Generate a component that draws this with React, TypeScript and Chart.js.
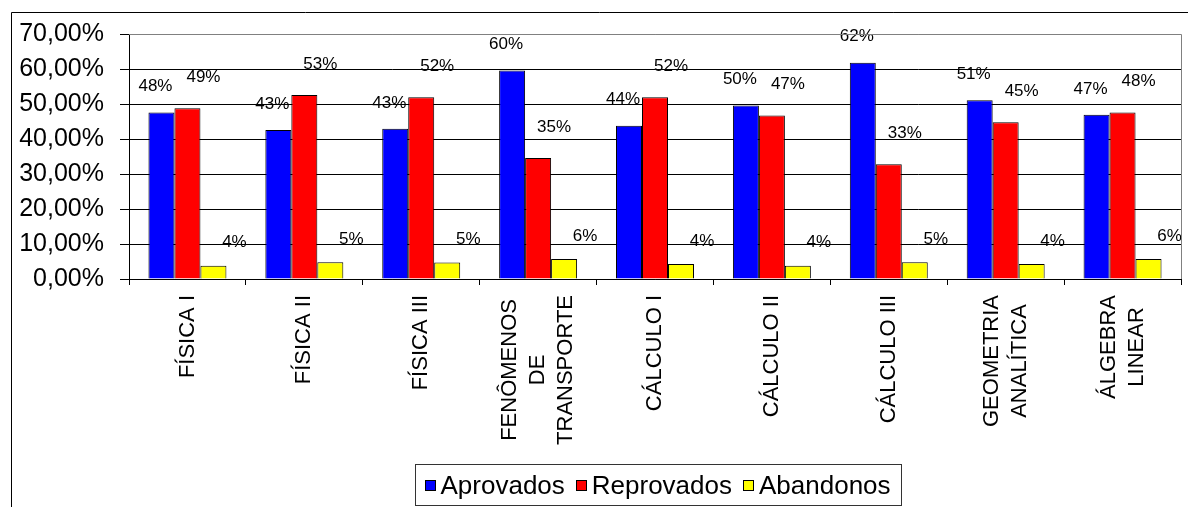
import React, { useEffect, useRef } from "react";
import { Chart, registerables } from "chart.js";

Chart.register(...registerables);

// ---- data ----
const categories: string[][] = [
  ["FÍSICA I"],
  ["FÍSICA II"],
  ["FÍSICA III"],
  ["FENÔMENOS", "DE", "TRANSPORTE"],
  ["CÁLCULO I"],
  ["CÁLCULO II"],
  ["CÁLCULO III"],
  ["GEOMETRIA", "ANALÍTICA"],
  ["ÁLGEBRA", "LINEAR"],
];
const seriesNames = ["Aprovados", "Reprovados", "Abandonos"];
const aprovados = [47.6, 42.6, 42.9, 59.6, 43.8, 49.6, 61.8, 51.1, 46.9];
const reprovados = [48.8, 52.6, 51.9, 34.6, 51.9, 46.7, 32.8, 44.8, 47.6];
const abandonos = [3.8, 4.8, 4.7, 5.7, 4.3, 3.8, 4.8, 4.3, 5.7];
const yTicks = [0, 10, 20, 30, 40, 50, 60, 70];

// ---- styles ----
const seriesColors = ["#0000FF", "#FF0000", "#FFFF00"];
const FONT = "'Liberation Sans', Arial, sans-serif";
const GREY = "#808080";

const fmtTick = (v: number) => v.toFixed(2).replace(".", ",") + "%";

const decorPlugin = {
  id: "decor",
  beforeDraw(chart: any) {
    const ctx = chart.ctx;
    ctx.save();
    ctx.fillStyle = "#fff";
    ctx.fillRect(0, 0, chart.width, chart.height);
    ctx.strokeStyle = "#000";
    ctx.lineWidth = 1;
    ctx.beginPath();
    ctx.moveTo(11.5, chart.height);
    ctx.lineTo(11.5, 12.5);
    ctx.lineTo(chart.width, 12.5);
    ctx.stroke();
    ctx.restore();
  },
  afterDatasetsDraw(chart: any) {
    const ctx = chart.ctx;
    const shifts = [
      { dx: -6, dy: -26 },
      { dx: 16, dy: -31 },
      { dx: 21, dy: -23 },
    ];
    ctx.save();
    ctx.font = `17px ${FONT}`;
    ctx.fillStyle = "#000";
    ctx.textAlign = "center";
    ctx.textBaseline = "middle";
    chart.data.datasets.forEach((ds: any, di: number) => {
      const meta = chart.getDatasetMeta(di);
      meta.data.forEach((el: any, i: number) => {
        const v = ds.data[i];
        ctx.fillText(Math.round(v) + "%", el.x + shifts[di].dx, el.y + shifts[di].dy);
      });
    });
    ctx.restore();
  },
  afterDraw(chart: any) {
    const ctx = chart.ctx;
    const area = chart.chartArea;
    // plot border (top/right grey)
    ctx.save();
    ctx.strokeStyle = GREY;
    ctx.lineWidth = 1;
    ctx.beginPath();
    ctx.moveTo(area.left, Math.round(area.top) + 0.5);
    ctx.lineTo(Math.round(area.right) + 0.5, Math.round(area.top) + 0.5);
    ctx.lineTo(Math.round(area.right) + 0.5, area.bottom);
    ctx.stroke();
    ctx.restore();

    // x labels, rotated, lines centered
    const xs = chart.scales.x;
    ctx.save();
    ctx.font = `22px ${FONT}`;
    ctx.fillStyle = "#000";
    ctx.textAlign = "center";
    ctx.textBaseline = "middle";
    const lineH = 28;
    const topY = area.bottom + 16;
    (chart.data.labels as string[][]).forEach((lines: string[], i: number) => {
      const x = xs.getPixelForValue(i);
      const maxW = Math.max(...lines.map((l) => ctx.measureText(l).width));
      ctx.save();
      ctx.translate(x, topY);
      ctx.rotate(-Math.PI / 2);
      lines.forEach((l, j) => {
        ctx.fillText(l, -maxW / 2, (j - (lines.length - 1) / 2) * lineH);
      });
      ctx.restore();
    });
    ctx.restore();

    // legend
    ctx.save();
    ctx.font = `26px ${FONT}`;
    ctx.textBaseline = "middle";
    ctx.textAlign = "left";
    const box = 11;
    const gapBoxText = 5;
    const gapItems = 11;
    const padL = 9;
    const padR = 11;
    const items = chart.data.datasets.map((d: any) => ({
      label: d.label,
      color: d.backgroundColor,
      w: ctx.measureText(d.label).width,
    }));
    const contentW =
      items.reduce((s: number, it: any) => s + box + gapBoxText + it.w, 0) +
      gapItems * (items.length - 1);
    const boxW = contentW + padL + padR;
    const cx = (area.left + area.right) / 2 + 3;
    const left = Math.round(cx - boxW / 2) + 0.5;
    const top = 464.5;
    const bottom = 505.5;
    ctx.strokeStyle = "#333";
    ctx.lineWidth = 1;
    ctx.strokeRect(left, top, Math.round(boxW), bottom - top);
    let x = left + padL;
    const cy = (top + bottom) / 2;
    items.forEach((it: any) => {
      ctx.fillStyle = it.color;
      ctx.fillRect(Math.round(x), Math.round(cy - box / 2), box, box);
      ctx.strokeStyle = "#000";
      ctx.strokeRect(Math.round(x) + 0.5, Math.round(cy - box / 2) + 0.5, box - 1, box - 1);
      x += box + gapBoxText;
      ctx.fillStyle = "#000";
      ctx.fillText(it.label, x, cy + 2);
      x += it.w + gapItems;
    });
    ctx.restore();
  },
};

export default function App() {
  const ref = useRef<HTMLCanvasElement | null>(null);

  useEffect(() => {
    if (!ref.current) return;
    const values = [aprovados, reprovados, abandonos];
    const chart = new Chart(ref.current, {
      type: "bar",
      data: {
        labels: categories as any,
        datasets: seriesNames.map((name, i) => ({
          label: name,
          data: values[i],
          backgroundColor: seriesColors[i],
          borderColor: "#000",
          borderWidth: 1,
          categoryPercentage: 0.667,
          barPercentage: 1,
        })),
      },
      options: {
        animation: false,
        responsive: false,
        devicePixelRatio: 1,
        layout: { padding: { top: 34, right: 7, left: 0, bottom: 0 } },
        plugins: {
          legend: { display: false },
          tooltip: { enabled: false },
        },
        scales: {
          x: {
            grid: {
              offset: true,
              drawOnChartArea: false,
              drawTicks: true,
              tickLength: 6,
              color: "#000",
            },
            border: { color: "#000", width: 1 },
            ticks: { display: false },
            afterFit(s: any) {
              s.height = 228;
            },
          },
          y: {
            min: 0,
            max: 70,
            afterBuildTicks(s: any) {
              s.ticks = yTicks.map((v) => ({ value: v }));
            },
            ticks: {
              font: { family: FONT, size: 25 },
              color: "#000",
              padding: 16,
              callback: (v: any) => fmtTick(Number(v)),
            },
            grid: {
              color: (c: any) => (c.tick && c.tick.value === 70 ? GREY : "#000"),
              tickColor: "#000",
              tickLength: 9,
            },
            border: { color: "#000", width: 1 },
            afterFit(s: any) {
              s.width = 129;
            },
          },
        },
      },
      plugins: [decorPlugin],
    });
    return () => chart.destroy();
  }, []);

  return (
    <div style={{ position: "absolute", left: 0, top: 0, width: 1188, height: 507 }}>
      <canvas ref={ref} width={1188} height={507} />
    </div>
  );
}
